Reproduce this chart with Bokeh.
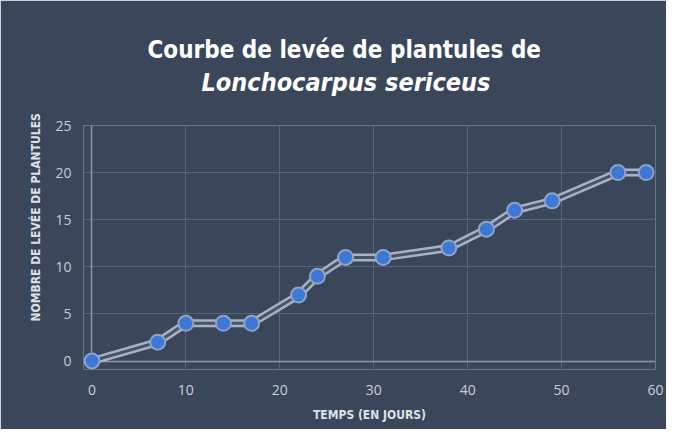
from bokeh.plotting import figure
from bokeh.models import Range1d, Title, Grid, FixedTicker
from bokeh.embed import file_html
from bokeh.resources import INLINE

# Data
jours = [0, 7, 10, 14, 17, 22, 24, 27, 31, 38, 42, 45, 49, 56, 59]
plantules = [0, 2, 4, 4, 4, 7, 9, 11, 11, 12, 14, 16, 17, 20, 20]
x_ticks = [0, 10, 20, 30, 40, 50, 60]
y_ticks = [0, 5, 10, 15, 20, 25]

title_line1 = "Courbe de levée de plantules de"
title_line2 = "Lonchocarpus sericeus"
x_title = "TEMPS (EN JOURS)"
y_title = "NOMBRE DE LEVÉE DE PLANTULES"

BG = "#3a4659"
TXT = "#c9ced7"
LBL = "#dde1e8"
COND = "DejaVu Sans Condensed"

p = figure(width=666, height=429, output_backend="svg", toolbar_location=None,
           x_range=Range1d(-0.9, 60), y_range=Range1d(-0.9, 25))
p.min_border_left = 83
p.min_border_right = 11
p.min_border_top = 125
p.min_border_bottom = 60
p.background_fill_color = BG
p.border_fill_color = BG
p.outline_line_color = None

for ax in (p.xaxis[0], p.yaxis[0]):
    ax.axis_line_color = None
    ax.major_tick_line_color = None
    ax.minor_tick_line_color = None
    ax.major_label_text_color = TXT
    ax.major_label_text_font = "Open Sans"
    ax.major_label_text_font_size = "14px"

p.xaxis.ticker = FixedTicker(ticks=x_ticks)
p.yaxis.ticker = FixedTicker(ticks=y_ticks)
p.xaxis.major_label_standoff = 9
p.yaxis.major_label_standoff = 6

p.xaxis.axis_label = x_title
p.xaxis.axis_label_text_font = COND
p.xaxis.axis_label_text_font_style = "bold"
p.xaxis.axis_label_text_font_size = "12px"
p.xaxis.axis_label_text_color = LBL
p.xaxis.axis_label_standoff = 10

p.xgrid.ticker = FixedTicker(ticks=x_ticks)
p.ygrid.ticker = FixedTicker(ticks=y_ticks)
p.grid.grid_line_color = "#56647a"
p.grid.grid_line_width = 1

# brighter zero lines (axis lines)
p.add_layout(Grid(dimension=0, ticker=FixedTicker(ticks=[0]), grid_line_color="#8e97a8", grid_line_width=1.5))
p.add_layout(Grid(dimension=1, ticker=FixedTicker(ticks=[0]), grid_line_color="#8e97a8", grid_line_width=1.5))

# double line effect
p.line(jours, plantules, line_color="#a9b1c2", line_width=8, line_join="round", line_cap="round")
p.line(jours, plantules, line_color="#46536a", line_width=3, line_join="round", line_cap="round")
p.scatter(jours, plantules, size=15, fill_color="#3d78d6", line_color="#8fa3c9", line_width=2)

# titles: second line (nearest to plot), then first line (outermost = p.title)
title_kw1 = dict(text=title_line1, align="left", offset=64, text_font=COND, text_font_style="bold",
                 text_font_size="24px", text_color="#ffffff")
try:
    t1 = Title(standoff=-54, **title_kw1)
    s2 = 58
except Exception:
    t1 = Title(standoff=0, **title_kw1)
    s2 = 40
p.add_layout(Title(text=title_line2, align="left", offset=118, text_font=COND,
                   text_font_style="bold italic", text_font_size="25px",
                   text_color="#ffffff", standoff=s2), "above")
p.title = t1

# y-axis title
p.add_layout(Title(text=y_title, align="left", offset=48, text_font=COND, text_font_style="bold",
                   text_font_size="12px", text_color=LBL, standoff=20), "left")

open("out.html", "w").write(file_html(p, INLINE))
